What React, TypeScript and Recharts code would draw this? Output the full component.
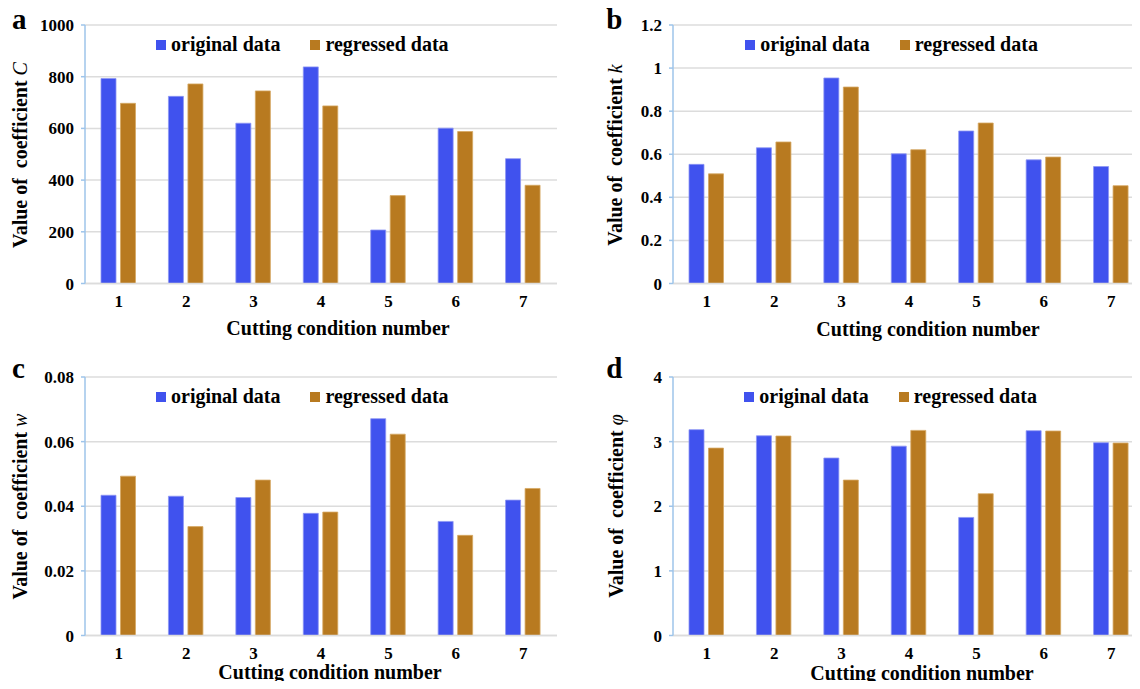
import React from 'react';
import { BarChart, Bar, XAxis, YAxis, CartesianGrid, Legend, Label } from 'recharts';

const categories = ['1', '2', '3', '4', '5', '6', '7'];

const cOriginal = [793, 724, 620, 838, 207, 601, 483];
const cRegressed = [697, 772, 745, 687, 340, 588, 380];
const kOriginal = [0.553, 0.63, 0.954, 0.602, 0.708, 0.574, 0.543];
const kRegressed = [0.509, 0.657, 0.912, 0.621, 0.745, 0.587, 0.454];
const wOriginal = [0.0434, 0.0431, 0.0427, 0.0378, 0.0671, 0.0353, 0.0419];
const wRegressed = [0.0493, 0.0337, 0.0481, 0.0382, 0.0623, 0.031, 0.0455];
const phiOriginal = [3.185, 3.09, 2.746, 2.93, 1.827, 3.169, 2.983];
const phiRegressed = [2.9, 3.087, 2.405, 3.174, 2.194, 3.164, 2.978];

const cTicks = [0, 200, 400, 600, 800, 1000];
const kTicks = [0, 0.2, 0.4, 0.6, 0.8, 1, 1.2];
const wTicks = [0, 0.02, 0.04, 0.06, 0.08];
const phiTicks = [0, 1, 2, 3, 4];

const seriesNames = ['original data', 'regressed data'];
const xTitle = 'Cutting condition number';
const yTitlePrefix = 'Value of  coefficient ';

const BLUE = '#4052EE';
const ORANGE = '#B87A20';
const FONT = '"Liberation Serif", "Times New Roman", serif';

type Panel = {
  letter: string;
  symbol: string;
  original: number[];
  regressed: number[];
  ticks: number[];
  left: number;
  top: number;
  yTitleX: number;
  yTitleY: number;
  xTitleX: number;
  xTitleY: number;
  legendLeft: number;
  legendTop: number;
  letterX: number;
  letterY: number;
};

const panels: Panel[] = [
  { letter: 'a', symbol: 'C', original: cOriginal, regressed: cRegressed, ticks: cTicks, left: 0, top: 0,
    yTitleX: 27, yTitleY: 155, xTitleX: 338, xTitleY: 335, legendLeft: 156, legendTop: 34, letterX: 12, letterY: 29 },
  { letter: 'b', symbol: 'k', original: kOriginal, regressed: kRegressed, ticks: kTicks, left: 588.3, top: 0,
    yTitleX: 34, yTitleY: 155, xTitleX: 340, xTitleY: 336, legendLeft: 157, legendTop: 34, letterX: 18, letterY: 29 },
  { letter: 'c', symbol: 'w', original: wOriginal, regressed: wRegressed, ticks: wTicks, left: 0, top: 352.3,
    yTitleX: 27, yTitleY: 154.5, xTitleX: 330, xTitleY: 327, legendLeft: 156, legendTop: 34, letterX: 12, letterY: 25.5 },
  { letter: 'd', symbol: 'φ', original: phiOriginal, regressed: phiRegressed, ticks: phiTicks, left: 588.3, top: 352.3,
    yTitleX: 34.5, yTitleY: 154, xTitleX: 334, xTitleY: 328, legendLeft: 156, legendTop: 34, letterX: 18, letterY: 26 },
];

const LegendContent = (props: any) => {
  const payload = props.payload || [];
  return (
    <div style={{ display: 'flex', alignItems: 'center', fontFamily: FONT, fontWeight: 'bold', fontSize: 20, lineHeight: '20px', color: '#000', whiteSpace: 'nowrap' }}>
      {payload.map((p: any, i: number) => (
        <div key={i} style={{ display: 'flex', alignItems: 'center', marginRight: i === 0 ? 30 : 0 }}>
          <div style={{ width: 10, height: 10, background: p.color, marginRight: 5, marginTop: 1 }} />
          <span>{p.value}</span>
        </div>
      ))}
    </div>
  );
};

const PanelChart = ({ panel }: { panel: Panel }) => {
  const data = categories.map((c, i) => ({ cat: c, original: panel.original[i], regressed: panel.regressed[i] }));
  const max = panel.ticks[panel.ticks.length - 1];
  return (
    <div style={{ position: 'absolute', left: panel.left, top: panel.top }}>
      <BarChart width={570} height={345} data={data} margin={{ top: 25, right: 13, bottom: 21.5, left: 0 }} barSize={15} barGap={4.5}>
        <CartesianGrid vertical={false} stroke="#dcdcdc" strokeWidth={1.5} />
        <XAxis
          dataKey="cat"
          height={40}
          tickLine={false}
          tickSize={0}
          tickMargin={11}
          axisLine={{ stroke: '#dcdcdc', strokeWidth: 1.5 }}
          tick={{ fill: '#000', fontSize: 17, fontWeight: 'bold', fontFamily: FONT }}
        >
          <Label
            content={() => (
              <text x={panel.xTitleX} y={panel.xTitleY} textAnchor="middle" fontFamily={FONT} fontWeight="bold" fontSize={20} fill="#000">
                {xTitle}
              </text>
            )}
          />
        </XAxis>
        <YAxis
          width={85}
          domain={[0, max]}
          ticks={panel.ticks}
          interval={0}
          tickSize={4}
          tickMargin={7}
          axisLine={{ stroke: '#9ec4ea', strokeWidth: 1.5 }}
          tickLine={{ stroke: '#9ec4ea', strokeWidth: 1.5 }}
          tick={{ fill: '#000', fontSize: 17, fontWeight: 'bold', fontFamily: FONT }}
        >
          <Label
            content={() => (
              <text
                x={panel.yTitleX}
                y={panel.yTitleY}
                transform={`rotate(-90, ${panel.yTitleX}, ${panel.yTitleY})`}
                textAnchor="middle"
                fontFamily={FONT}
                fontSize={20}
                fill="#000"
                style={{ whiteSpace: 'pre' }}
              >
                <tspan fontWeight="bold">{yTitlePrefix}</tspan>
                <tspan fontStyle="italic" fontWeight="normal">{panel.symbol}</tspan>
              </text>
            )}
          />
        </YAxis>
        <Legend
          layout="horizontal"
          verticalAlign="middle"
          align="center"
          wrapperStyle={{ top: panel.legendTop, left: panel.legendLeft, width: 'auto' }}
          content={<LegendContent />}
        />
        <Bar dataKey="original" name={seriesNames[0]} fill={BLUE} stroke="#8d96f4" strokeWidth={0.8} isAnimationActive={false} />
        <Bar dataKey="regressed" name={seriesNames[1]} fill={ORANGE} stroke="#d6a863" strokeWidth={0.8} isAnimationActive={false} />
      </BarChart>
    </div>
  );
};

export default function App() {
  return (
    <div style={{ position: 'relative', width: 1140, height: 689, margin: -8, overflow: 'hidden', background: '#fff' }}>
      {panels.map((p) => (
        <PanelChart key={p.letter} panel={p} />
      ))}
      <svg width={1140} height={689} style={{ position: 'absolute', left: 0, top: 0, pointerEvents: 'none' }}>
        {panels.map((p) => (
          <text key={p.letter} x={p.left + p.letterX} y={p.top + p.letterY} fontFamily={FONT} fontWeight="bold" fontSize={29} fill="#000">
            {p.letter}
          </text>
        ))}
      </svg>
    </div>
  );
}
